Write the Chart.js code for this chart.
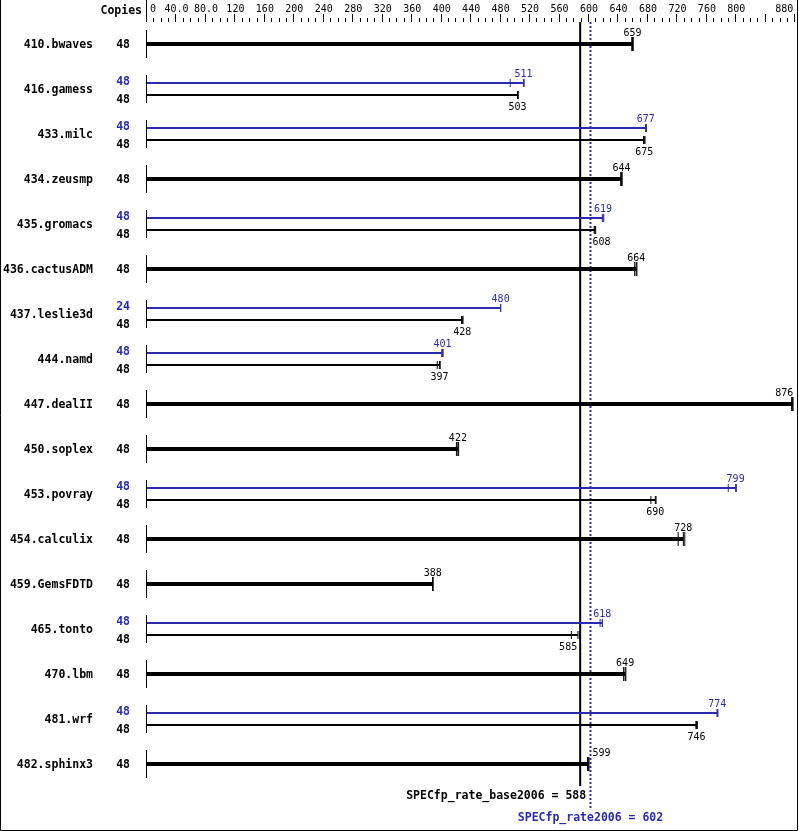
<!DOCTYPE html>
<html>
<head>
<meta charset="utf-8">
<script src="https://cdn.jsdelivr.net/npm/chart.js@4"></script>
<style>
  html, body { margin: 0; padding: 0; background: #fff; }
  canvas { display: block; }
</style>
</head>
<body>
<canvas id="specChart" width="799" height="831"></canvas>
<script>
// benchmarks, top to bottom
const benchmarks = ["410.bwaves", "416.gamess", "433.milc", "434.zeusmp", "435.gromacs",
  "436.cactusADM", "437.leslie3d", "444.namd", "447.dealII", "450.soplex", "453.povray",
  "454.calculix", "459.GemsFDTD", "465.tonto", "470.lbm", "481.wrf", "482.sphinx3"];
const baseCopies = [48, 48, 48, 48, 48, 48, 48, 48, 48, 48, 48, 48, 48, 48, 48, 48, 48];
const peakCopies = [null, 48, 48, null, 48, null, 24, 48, null, null, 48, null, null, 48, null, 48, null];

// median ratios
const baseValues = [659, 503, 675, 644, 608, 664, 428, 397, 876, 422, 690, 728, 388, 585, 649, 746, 599];
const peakValues = [null, 511, 677, null, 619, null, 480, 401, null, null, 799, null, null, 618, null, 774, null];

// the three runs behind each median (small tick marks)
const baseRuns = [[658, 659, 660], [503, 503, 504], [674, 675, 676], [643, 644, 645], [607, 608, 609],
  [662, 664, 665], [427, 428, 429], [394, 397, 398], [875, 876, 877], [420, 422, 423],
  [684, 690, 691], [721, 728, 730], [388, 388, 388], [576, 585, 587], [647, 649, 650],
  [745, 746, 747], [598, 599, 600]];
const peakRuns = [null, [493, 511, 512], [677, 677, 678], null, [618, 619, 620], null,
  [480, 480, 480], [400, 401, 402], null, null, [789, 799, 800], null, null,
  [615, 618, 618], null, [774, 774, 775], null];

const tickValues = [0, 40, 80, 120, 160, 200, 240, 280, 320, 360, 400, 440, 480, 520, 560,
  600, 640, 680, 720, 760, 800, 880];
const tickLabels = ["0", "40.0", "80.0", "120", "160", "200", "240", "280", "320", "360", "400",
  "440", "480", "520", "560", "600", "640", "680", "720", "760", "800", "880"];

const baseMean = 588;
const peakMean = 602;
const baseLabel = "SPECfp_rate_base2006 = 588";
const peakLabel = "SPECfp_rate2006 = 602";

const BLACK = "#000000";
const BLUE = "#2b2bae";
const PAIR_OFF = 0.1333;
const boldFont = "bold 11.5px 'DejaVu Sans Mono', monospace";
const smallFont = "10px 'DejaVu Sans Mono', monospace";

// build datasets
const datasets = [];
function addBar(value, runs, y, color, width, tickR) {
  datasets.push({
    data: [{ x: 0, y: y }, { x: value, y: y }],
    showLine: true,
    borderColor: color,
    borderWidth: width,
    pointRadius: 0,
    order: 2
  });
  datasets.push({
    data: runs.map(r => ({ x: r, y: y })),
    showLine: false,
    pointStyle: "line",
    rotation: 90,
    pointRadius: tickR,
    pointBorderWidth: 1,
    pointBorderColor: color,
    pointBackgroundColor: color,
    order: 1
  });
}
benchmarks.forEach((b, i) => {
  if (peakValues[i] == null) {
    addBar(baseValues[i], baseRuns[i], i, BLACK, 4, 7);
  } else {
    addBar(peakValues[i], peakRuns[i], i - PAIR_OFF, BLUE, 2, 4);
    addBar(baseValues[i], baseRuns[i], i + PAIR_OFF, BLACK, 2, 4);
  }
});

const specDecor = {
  id: "specDecor",
  beforeDatasetsDraw(chart) {
    const ctx = chart.ctx;
    const xs = chart.scales.x, ys = chart.scales.y;
    const x0 = xs.getPixelForValue(0);
    ctx.save();
    // frame
    ctx.strokeStyle = BLACK;
    ctx.lineWidth = 1;
    ctx.beginPath();
    ctx.moveTo(0.5, 0); ctx.lineTo(0.5, 830.5);
    ctx.lineTo(797.5, 830.5); ctx.lineTo(797.5, 0);
    ctx.stroke();
    // header
    ctx.fillStyle = BLACK;
    ctx.font = boldFont;
    ctx.textAlign = "right";
    ctx.textBaseline = "alphabetic";
    ctx.fillText("Copies", 142, 14);
    ctx.beginPath();
    ctx.moveTo(x0 - 0.5, 0); ctx.lineTo(x0 - 0.5, 22);
    ctx.stroke();
    // axis ticks
    for (let v = 0; v <= 880; v += 10) {
      const px = Math.round(xs.getPixelForValue(v)) - 0.5;
      const len = v % 40 === 0 ? 8 : 4;
      ctx.beginPath();
      ctx.moveTo(px, 22 - len); ctx.lineTo(px, 22);
      ctx.stroke();
    }
    ctx.font = smallFont;
    tickValues.forEach((v, k) => {
      const px = xs.getPixelForValue(v);
      if (k === 0) { ctx.textAlign = "left"; ctx.fillText(tickLabels[k], px + 3, 12); }
      else if (k === tickValues.length - 1) { ctx.textAlign = "right"; ctx.fillText(tickLabels[k], px - 2, 12); }
      else { ctx.textAlign = "center"; ctx.fillText(tickLabels[k], px, 12); }
    });
    // per-row axis segments
    benchmarks.forEach((b, i) => {
      const yc = ys.getPixelForValue(i);
      ctx.beginPath();
      ctx.moveTo(x0 - 0.5, yc - 14); ctx.lineTo(x0 - 0.5, yc + 14);
      ctx.stroke();
    });
    // mean lines
    const bx = xs.getPixelForValue(baseMean);
    const px2 = xs.getPixelForValue(peakMean);
    ctx.lineWidth = 2;
    ctx.strokeStyle = BLACK;
    ctx.beginPath();
    ctx.moveTo(bx, 22); ctx.lineTo(bx, 786);
    ctx.stroke();
    ctx.strokeStyle = BLUE;
    ctx.setLineDash([2, 2]);
    ctx.beginPath();
    ctx.moveTo(px2, 22); ctx.lineTo(px2, 808);
    ctx.stroke();
    ctx.setLineDash([]);
    ctx.font = boldFont;
    ctx.textAlign = "right";
    ctx.fillStyle = BLACK;
    ctx.fillText(baseLabel, bx + 6, 799);
    ctx.textAlign = "center";
    ctx.fillStyle = BLUE;
    ctx.fillText(peakLabel, px2, 821);
    ctx.restore();
  },
  afterDatasetsDraw(chart) {
    const ctx = chart.ctx;
    const xs = chart.scales.x, ys = chart.scales.y;
    const bx = xs.getPixelForValue(baseMean);
    const pbx = xs.getPixelForValue(peakMean);
    const maxRight = xs.right - 2;
    ctx.save();
    ctx.textBaseline = "alphabetic";

    function valueLabel(v, yb, color) {
      ctx.font = smallFont;
      ctx.fillStyle = color;
      const txt = String(v);
      const w = ctx.measureText(txt).width;
      let cx = xs.getPixelForValue(v);
      let left = cx - w / 2, right = cx + w / 2;
      const hits = (x) => x > left - 1 && x < right + 1;
      if (right > maxRight) {
        ctx.textAlign = "right"; ctx.fillText(txt, maxRight, yb);
      } else if (hits(bx) || hits(pbx)) {
        if (v < baseMean) { ctx.textAlign = "right"; ctx.fillText(txt, bx - 3, yb); }
        else { ctx.textAlign = "left"; ctx.fillText(txt, pbx + 2, yb); }
      } else {
        ctx.textAlign = "center";
        ctx.fillText(txt, cx, yb);
      }
    }

    benchmarks.forEach((b, i) => {
      const yc = ys.getPixelForValue(i);
      ctx.font = boldFont;
      ctx.textAlign = "right";
      ctx.fillStyle = BLACK;
      ctx.fillText(b, 93, yc + 4);
      if (peakValues[i] == null) {
        ctx.fillText(String(baseCopies[i]), 130, yc + 4);
        valueLabel(baseValues[i], yc - 8, BLACK);
      } else {
        const yb = ys.getPixelForValue(i - PAIR_OFF);
        const yk = ys.getPixelForValue(i + PAIR_OFF);
        ctx.fillStyle = BLUE;
        ctx.fillText(String(peakCopies[i]), 130, yc - 4);
        ctx.fillStyle = BLACK;
        ctx.fillText(String(baseCopies[i]), 130, yc + 14);
        valueLabel(peakValues[i], yb - 6, BLUE);
        valueLabel(baseValues[i], yk + 15, BLACK);
      }
    });
    ctx.restore();
  }
};

new Chart(document.getElementById("specChart"), {
  type: "scatter",
  data: { datasets: datasets },
  options: {
    responsive: false,
    animation: false,
    events: [],
    layout: { autoPadding: false, padding: { left: 147, right: 3.7, top: 21.5, bottom: 44.5 } },
    plugins: { legend: { display: false }, tooltip: { enabled: false } },
    scales: {
      x: { type: "linear", min: 0, max: 880, display: false },
      y: { type: "linear", min: -0.5, max: 16.5, reverse: true, display: false }
    }
  },
  plugins: [specDecor]
});
</script>
</body>
</html>
